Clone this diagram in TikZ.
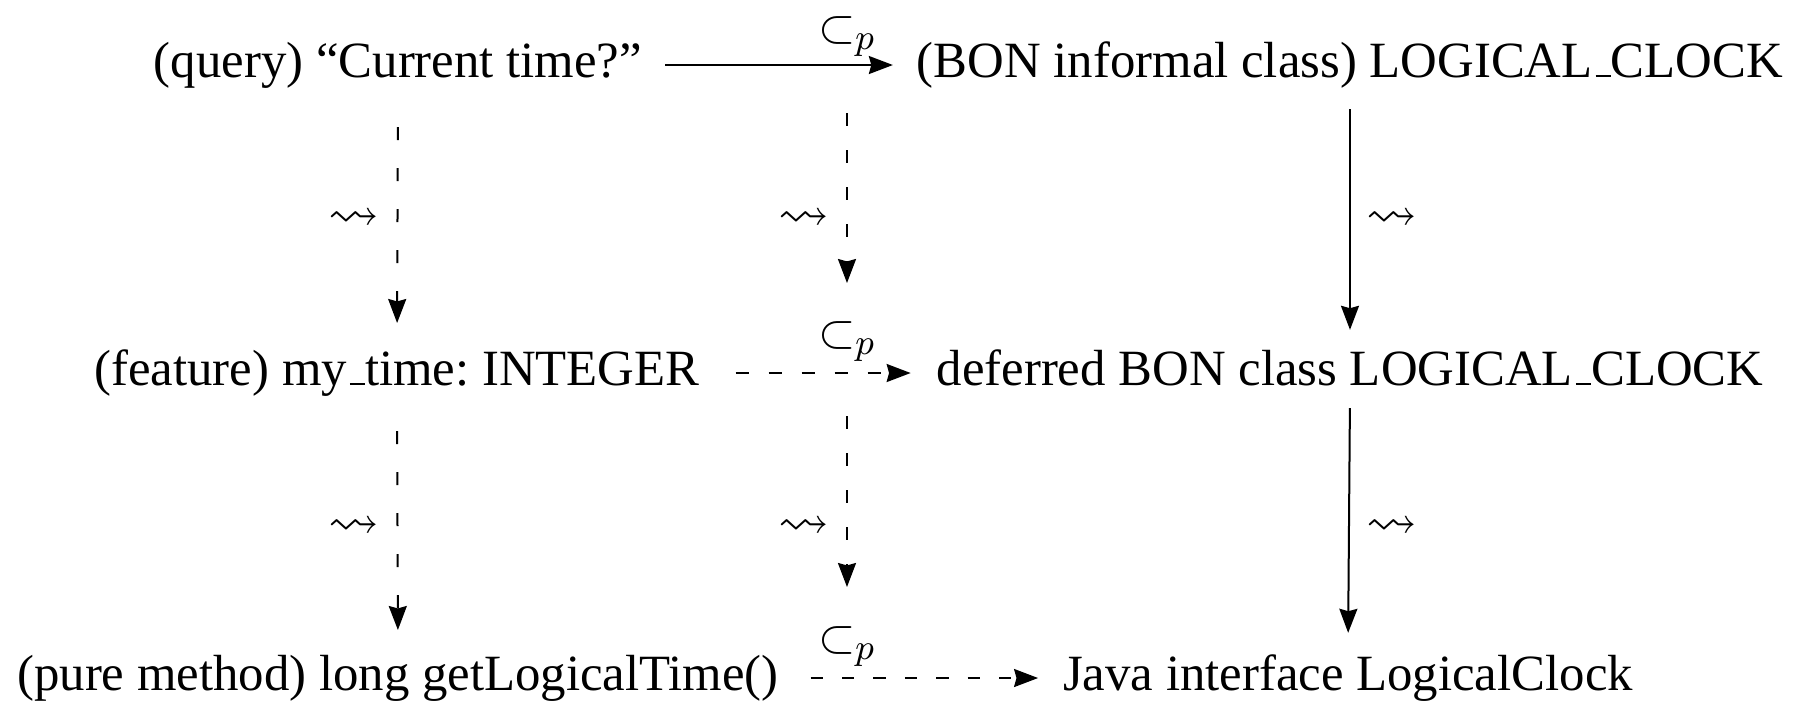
\documentclass[tikz,border=0pt]{standalone}
\usepackage{amssymb}
\usepackage{fontspec}
\setmainfont{Liberation Serif}
\usetikzlibrary{arrows.meta}
\newcommand\lowbar{\leavevmode\kern.06em\vbox{\hrule width.3em height 0.55pt}}
\frenchspacing
\begin{document}
\begin{tikzpicture}[x=0.25pt,y=-0.25pt,
  lbl/.style={inner sep=0pt, outer sep=0pt, anchor=base, text height=8.8pt, text depth=2.8pt, font=\fontsize{12.7}{15}\selectfont},
  sym/.style={inner sep=0pt, outer sep=0pt, anchor=base, text height=6.5pt, text depth=3.5pt, font=\fontsize{12.7}{15}\selectfont},
  wig/.style={inner sep=0pt, outer sep=0pt, anchor=center, font=\fontsize{12.7}{15}\selectfont},
  arr/.style={line width=0.5pt, -{Stealth[length=6pt,width=4.5pt,inset=0.6pt]}},
  dashv/.style={arr, dash pattern=on 3.25pt off 7pt},
  dashw/.style={arr, dash pattern=on 3.25pt off 6pt},
  dashh/.style={arr, dash pattern=on 3.25pt off 5pt},
  dashk/.style={arr, dash pattern=on 3.1pt off 4.75pt}]
\useasboundingbox (0,0) rectangle (1803,701);

% nodes
\node[lbl] (q) at (398,77) {(query) ``Current time?''};
\node[lbl] (b) at (1350,77) {(BON informal class) LOGICAL\lowbar CLOCK};
\node[lbl] (f) at (397,385) {(feature) my\lowbar time: INTEGER};
\node[lbl] (d) at (1350,385) {deferred BON class LOGICAL\lowbar CLOCK};
\node[lbl] (m) at (398,690) {(pure method) long getLogicalTime()};
\node[lbl] (j) at (1348,690) {Java interface LogicalClock};

% subset labels
\node[sym] (s1) at (847,42) {$\subset_p$};
\node[sym] (s2) at (847,347) {$\subset_p$};
\node[sym] (s3) at (847,652) {$\subset_p$};

% leadsto labels
\node[wig] (w1) at (354,220) {$\leadsto$};
\node[wig] (w2) at (804,220) {$\leadsto$};
\node[wig] (w3) at (1392,220) {$\leadsto$};
\node[wig] (w4) at (354,528) {$\leadsto$};
\node[wig] (w5) at (804,528) {$\leadsto$};
\node[wig] (w6) at (1392,528) {$\leadsto$};

% horizontal arrows
\draw[arr, shorten <=5.75pt, shorten >=6pt] (q.east) -- (b.west);
\draw[dashh, shorten <=9pt, shorten >=6.5pt] (f.east) -- (d.west);
\draw[dashk, shorten <=8pt, shorten >=6.25pt] (m.east) -- (j.west);

% column 1
\draw[dashv, shorten <=9.7pt, shorten >=6.7pt] (q.south) -- (f.north);
\draw[dashv, shorten <=8.7pt, shorten >=6.2pt] (f.south) -- (m.north);

% column 2
\draw[dashw, shorten <=14.25pt, shorten >=9.5pt] (s1.south) -- (s2.north);
\draw[dashw, shorten <=13.75pt, shorten >=9.75pt] (s2.south) -- (s3.north);

% column 3
\draw[arr, shorten <=5.2pt, shorten >=5pt] (b.south) -- (d.north);
\draw[arr, shorten <=3pt, shorten >=5.5pt] (d.south) -- (j.north);
\end{tikzpicture}
\end{document}
